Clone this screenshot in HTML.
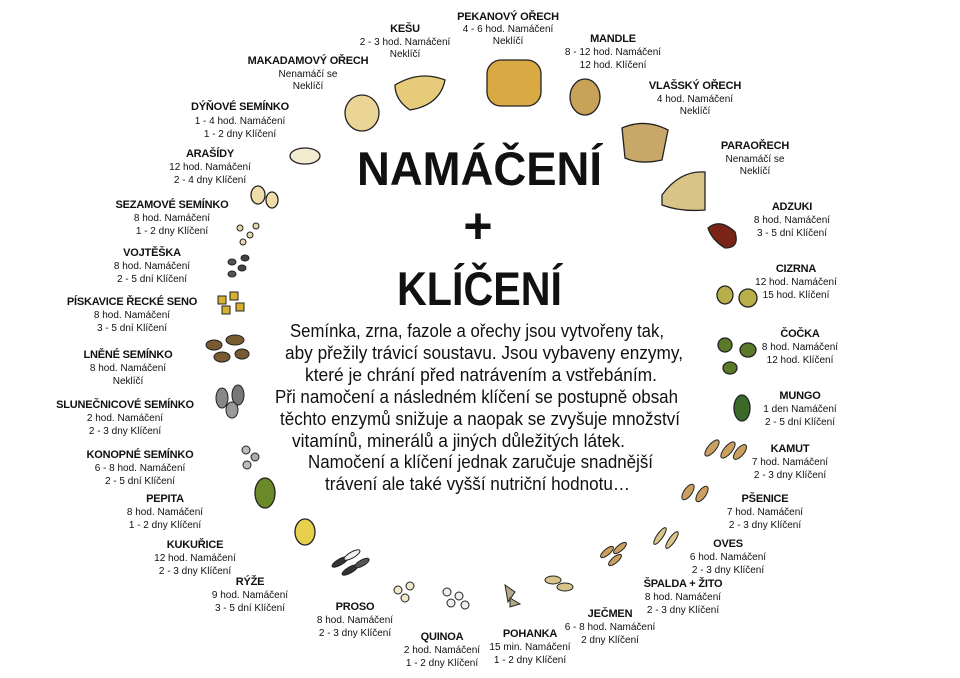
<!DOCTYPE html>
<html><head><meta charset="utf-8"><style>
html,body{margin:0;padding:0;background:#fff}
svg{display:block}
.t{font-family:"Liberation Sans",sans-serif;font-weight:bold;font-size:11px;fill:#111;text-anchor:middle;letter-spacing:-0.2px}
.d{font-family:"Liberation Sans",sans-serif;font-size:10px;fill:#111;text-anchor:middle}
.p{font-family:"Liberation Sans",sans-serif;font-size:18px;fill:#111}
.s{stroke:#222;stroke-width:1.3}
</style></head><body>
<svg width="960" height="678" viewBox="0 0 960 678" xmlns="http://www.w3.org/2000/svg">
<rect width="960" height="678" fill="#fff"/>
<!-- title -->
<text x="357" y="185" style="font-family:'Liberation Sans',sans-serif;font-size:47px;font-weight:bold" fill="#111" textLength="245" lengthAdjust="spacingAndGlyphs">NAMÁČENÍ</text>
<text x="478" y="243" style="font-family:'Liberation Sans',sans-serif;font-size:50px;font-weight:bold" fill="#111" text-anchor="middle">+</text>
<text x="397" y="305" style="font-family:'Liberation Sans',sans-serif;font-size:47px;font-weight:bold" fill="#111" textLength="165" lengthAdjust="spacingAndGlyphs">KLÍČENÍ</text>
<!-- paragraph -->
<g class="p">
<text x="290" y="337" textLength="374" lengthAdjust="spacingAndGlyphs">Semínka, zrna, fazole a ořechy jsou vytvořeny tak,</text>
<text x="285" y="359" textLength="398" lengthAdjust="spacingAndGlyphs">aby přežily trávicí soustavu. Jsou vybaveny enzymy,</text>
<text x="305" y="381" textLength="352" lengthAdjust="spacingAndGlyphs">které je chrání před natrávením a vstřebáním.</text>
<text x="275" y="403" textLength="403" lengthAdjust="spacingAndGlyphs">Při namočení a následném klíčení se postupně obsah</text>
<text x="280" y="425" textLength="400" lengthAdjust="spacingAndGlyphs">těchto enzymů snižuje a naopak se zvyšuje množství</text>
<text x="292" y="447" textLength="333" lengthAdjust="spacingAndGlyphs">vitamínů, minerálů a jiných důležitých látek.</text>
<text x="308" y="468" textLength="345" lengthAdjust="spacingAndGlyphs">Namočení a klíčení jednak zaručuje snadnější</text>
<text x="325" y="490" textLength="305" lengthAdjust="spacingAndGlyphs">trávení ale také vyšší nutriční hodnotu…</text>
</g>
<!-- seeds -->
<g class="s">
<rect x="487" y="60" width="54" height="46" rx="14" fill="#d9a944"/>
<path d="M395 85 Q420 70 445 80 Q440 105 410 110 Q395 100 395 85Z" fill="#e6cc7a"/>
<ellipse cx="585" cy="97" rx="15" ry="18" fill="#c9a25a"/>
<ellipse cx="362" cy="113" rx="17" ry="18" fill="#ead596"/>
<path d="M622 128 Q645 118 668 130 L662 160 Q640 165 625 158Z" fill="#c8a868"/>
<ellipse cx="305" cy="156" rx="15" ry="8" fill="#f3ebd0"/>
<path d="M662 195 Q680 170 705 172 L705 210 Q680 212 662 205Z" fill="#d8c486"/>
<ellipse cx="258" cy="195" rx="7" ry="9" fill="#f0dca8"/>
<ellipse cx="272" cy="200" rx="6" ry="8" fill="#f0dca8"/>
<path d="M708 228 Q720 218 735 232 Q740 248 725 248 Q712 240 708 228Z" fill="#7a2418"/>
<ellipse cx="725" cy="295" rx="8" ry="9" fill="#b7b04a"/>
<ellipse cx="748" cy="298" rx="9" ry="9" fill="#b7b04a"/>
<ellipse cx="725" cy="345" rx="7" ry="7" fill="#5a7a2a"/>
<ellipse cx="748" cy="350" rx="8" ry="7" fill="#5a7a2a"/>
<ellipse cx="730" cy="368" rx="7" ry="6" fill="#5a7a2a"/>
<ellipse cx="742" cy="408" rx="8" ry="13" fill="#3a6a2a"/>
<ellipse cx="265" cy="493" rx="10" ry="15" fill="#6a8a2a"/>
<ellipse cx="305" cy="532" rx="10" ry="13" fill="#e6d04e"/>
</g>
<g stroke="#222" stroke-width="1">
<circle cx="240" cy="228" r="3" fill="#e8d8b0"/><circle cx="250" cy="235" r="3" fill="#e8d8b0"/><circle cx="243" cy="242" r="3" fill="#e8d8b0"/><circle cx="256" cy="226" r="3" fill="#e8d8b0"/>
<ellipse cx="232" cy="262" rx="4" ry="3" fill="#555"/><ellipse cx="242" cy="268" rx="4" ry="3" fill="#444"/><ellipse cx="232" cy="274" rx="4" ry="3" fill="#555"/><ellipse cx="245" cy="258" rx="4" ry="3" fill="#444"/>
<rect x="218" y="296" width="8" height="8" fill="#d8b030"/><rect x="230" y="292" width="8" height="8" fill="#d8b030"/><rect x="222" y="306" width="8" height="8" fill="#d8b030"/><rect x="236" y="303" width="8" height="8" fill="#d8b030"/>
<ellipse cx="214" cy="345" rx="8" ry="5" fill="#7a5a30"/><ellipse cx="235" cy="340" rx="9" ry="5" fill="#7a5a30"/><ellipse cx="222" cy="357" rx="8" ry="5" fill="#7a5a30"/><ellipse cx="242" cy="354" rx="7" ry="5" fill="#7a5a30"/>
<ellipse cx="222" cy="398" rx="6" ry="10" fill="#888"/><ellipse cx="238" cy="395" rx="6" ry="10" fill="#777"/><ellipse cx="232" cy="410" rx="6" ry="8" fill="#999"/>
<circle cx="246" cy="450" r="4" fill="#bbb"/><circle cx="255" cy="457" r="4" fill="#aaa"/><circle cx="247" cy="465" r="4" fill="#bbb"/>
<ellipse cx="712" cy="448" rx="4" ry="10" fill="#c9a060" transform="rotate(40 712 448)"/><ellipse cx="728" cy="450" rx="4" ry="10" fill="#c9a060" transform="rotate(40 728 450)"/><ellipse cx="740" cy="452" rx="4" ry="9" fill="#c9a060" transform="rotate(40 740 452)"/>
<ellipse cx="688" cy="492" rx="4" ry="9" fill="#c9a060" transform="rotate(35 688 492)"/><ellipse cx="702" cy="494" rx="4" ry="9" fill="#c9a060" transform="rotate(35 702 494)"/>
<ellipse cx="660" cy="536" rx="3" ry="10" fill="#d8c48a" transform="rotate(35 660 536)"/><ellipse cx="672" cy="540" rx="3" ry="10" fill="#d8c48a" transform="rotate(35 672 540)"/>
<ellipse cx="607" cy="552" rx="3" ry="8" fill="#c9a060" transform="rotate(50 607 552)"/><ellipse cx="620" cy="548" rx="3" ry="8" fill="#c9a060" transform="rotate(50 620 548)"/><ellipse cx="615" cy="560" rx="3" ry="8" fill="#c9a060" transform="rotate(50 615 560)"/>
<ellipse cx="340" cy="562" rx="3" ry="9" fill="#333" transform="rotate(60 340 562)"/><ellipse cx="352" cy="555" rx="3" ry="9" fill="#f0f0f0" transform="rotate(60 352 555)"/><ellipse cx="350" cy="570" rx="3" ry="9" fill="#333" transform="rotate(60 350 570)"/><ellipse cx="362" cy="563" rx="3" ry="8" fill="#555" transform="rotate(60 362 563)"/>
<circle cx="398" cy="590" r="4" fill="#f0e6c8"/><circle cx="410" cy="586" r="4" fill="#f0e6c8"/><circle cx="405" cy="598" r="4" fill="#f0e6c8"/>
<circle cx="447" cy="592" r="4" fill="#eee"/><circle cx="459" cy="596" r="4" fill="#eee"/><circle cx="451" cy="603" r="4" fill="#eee"/><circle cx="465" cy="605" r="4" fill="#eee"/>
<path d="M505 585 L515 592 L508 602Z" fill="#b8a88a"/><path d="M510 598 L520 604 L510 607Z" fill="#b8a88a"/>
<ellipse cx="553" cy="580" rx="8" ry="4" fill="#d8c48a"/><ellipse cx="565" cy="587" rx="8" ry="4" fill="#d8c48a"/>
</g>
<!-- labels -->
<g>
<text class="t" x="405" y="32">KEŠU</text><text class="d" x="405" y="45">2 - 3 hod. Namáčení</text><text class="d" x="405" y="57">Neklíčí</text>
<text class="t" x="508" y="20">PEKANOVÝ OŘECH</text><text class="d" x="508" y="32">4 - 6 hod. Namáčení</text><text class="d" x="508" y="44">Neklíčí</text>
<text class="t" x="613" y="42">MANDLE</text><text class="d" x="613" y="55">8 - 12 hod. Namáčení</text><text class="d" x="613" y="68">12 hod. Klíčení</text>
<text class="t" x="308" y="64">MAKADAMOVÝ OŘECH</text><text class="d" x="308" y="77">Nenamáčí se</text><text class="d" x="308" y="89">Neklíčí</text>
<text class="t" x="695" y="89">VLAŠSKÝ OŘECH</text><text class="d" x="695" y="102">4 hod. Namáčení</text><text class="d" x="695" y="114">Neklíčí</text>
<text class="t" x="240" y="110">DÝŇOVÉ SEMÍNKO</text><text class="d" x="240" y="124">1 - 4 hod. Namáčení</text><text class="d" x="240" y="137">1 - 2 dny Klíčení</text>
<text class="t" x="755" y="149">PARAOŘECH</text><text class="d" x="755" y="162">Nenamáčí se</text><text class="d" x="755" y="174">Neklíčí</text>
<text class="t" x="210" y="157">ARAŠÍDY</text><text class="d" x="210" y="170">12 hod. Namáčení</text><text class="d" x="210" y="183">2 - 4 dny Klíčení</text>
<text class="t" x="172" y="208">SEZAMOVÉ SEMÍNKO</text><text class="d" x="172" y="221">8 hod. Namáčení</text><text class="d" x="172" y="234">1 - 2 dny Klíčení</text>
<text class="t" x="792" y="210">ADZUKI</text><text class="d" x="792" y="223">8 hod. Namáčení</text><text class="d" x="792" y="236">3 - 5 dní Klíčení</text>
<text class="t" x="152" y="256">VOJTĚŠKA</text><text class="d" x="152" y="269">8 hod. Namáčení</text><text class="d" x="152" y="282">2 - 5 dní Klíčení</text>
<text class="t" x="796" y="272">CIZRNA</text><text class="d" x="796" y="285">12 hod. Namáčení</text><text class="d" x="796" y="298">15 hod. Klíčení</text>
<text class="t" x="132" y="305">PÍSKAVICE ŘECKÉ SENO</text><text class="d" x="132" y="318">8 hod. Namáčení</text><text class="d" x="132" y="331">3 - 5 dní Klíčení</text>
<text class="t" x="800" y="337">ČOČKA</text><text class="d" x="800" y="350">8 hod. Namáčení</text><text class="d" x="800" y="363">12 hod. Klíčení</text>
<text class="t" x="128" y="358">LNĚNÉ SEMÍNKO</text><text class="d" x="128" y="371">8 hod. Namáčení</text><text class="d" x="128" y="384">Neklíčí</text>
<text class="t" x="800" y="399">MUNGO</text><text class="d" x="800" y="412">1 den Namáčení</text><text class="d" x="800" y="425">2 - 5 dní Klíčení</text>
<text class="t" x="125" y="408">SLUNEČNICOVÉ SEMÍNKO</text><text class="d" x="125" y="421">2 hod. Namáčení</text><text class="d" x="125" y="434">2 - 3 dny Klíčení</text>
<text class="t" x="790" y="452">KAMUT</text><text class="d" x="790" y="465">7 hod. Namáčení</text><text class="d" x="790" y="478">2 - 3 dny Klíčení</text>
<text class="t" x="140" y="458">KONOPNÉ SEMÍNKO</text><text class="d" x="140" y="471">6 - 8 hod. Namáčení</text><text class="d" x="140" y="484">2 - 5 dní Klíčení</text>
<text class="t" x="165" y="502">PEPITA</text><text class="d" x="165" y="515">8 hod. Namáčení</text><text class="d" x="165" y="528">1 - 2 dny Klíčení</text>
<text class="t" x="765" y="502">PŠENICE</text><text class="d" x="765" y="515">7 hod. Namáčení</text><text class="d" x="765" y="528">2 - 3 dny Klíčení</text>
<text class="t" x="728" y="547">OVES</text><text class="d" x="728" y="560">6 hod. Namáčení</text><text class="d" x="728" y="573">2 - 3 dny Klíčení</text>
<text class="t" x="195" y="548">KUKUŘICE</text><text class="d" x="195" y="561">12 hod. Namáčení</text><text class="d" x="195" y="574">2 - 3 dny Klíčení</text>
<text class="t" x="250" y="585">RÝŽE</text><text class="d" x="250" y="598">9 hod. Namáčení</text><text class="d" x="250" y="611">3 - 5 dní Klíčení</text>
<text class="t" x="683" y="587">ŠPALDA + ŽITO</text><text class="d" x="683" y="600">8 hod. Namáčení</text><text class="d" x="683" y="613">2 - 3 dny Klíčení</text>
<text class="t" x="355" y="610">PROSO</text><text class="d" x="355" y="623">8 hod. Namáčení</text><text class="d" x="355" y="636">2 - 3 dny Klíčení</text>
<text class="t" x="610" y="617">JEČMEN</text><text class="d" x="610" y="630">6 - 8 hod. Namáčení</text><text class="d" x="610" y="643">2 dny Klíčení</text>
<text class="t" x="442" y="640">QUINOA</text><text class="d" x="442" y="653">2 hod. Namáčení</text><text class="d" x="442" y="666">1 - 2 dny Klíčení</text>
<text class="t" x="530" y="637">POHANKA</text><text class="d" x="530" y="650">15 min. Namáčení</text><text class="d" x="530" y="663">1 - 2 dny Klíčení</text>
</g>
</svg>
</body></html>
